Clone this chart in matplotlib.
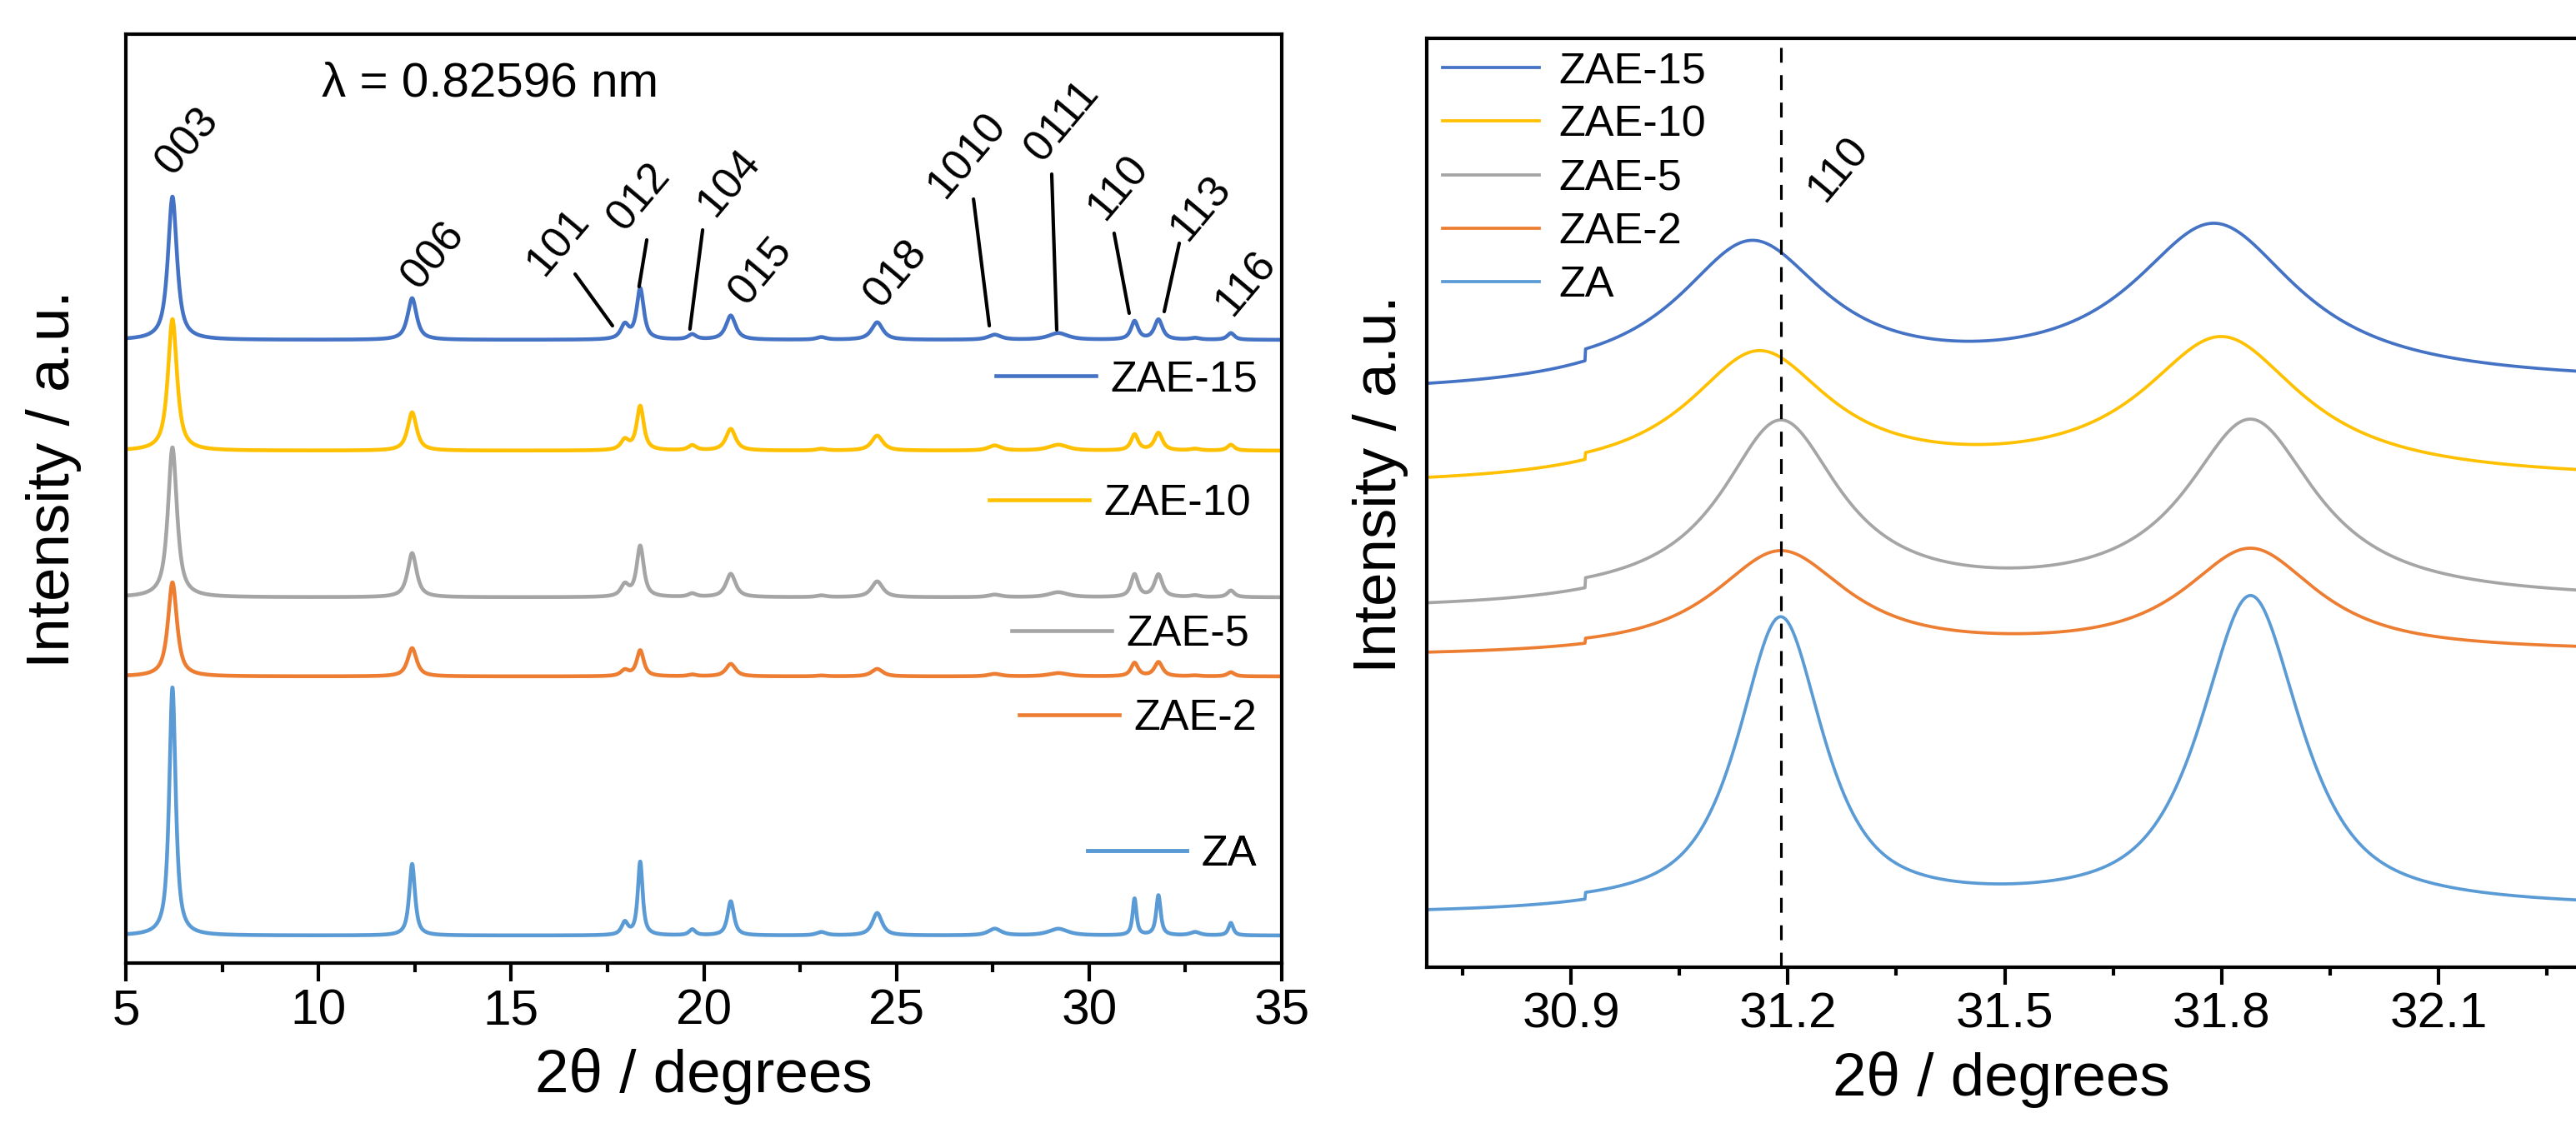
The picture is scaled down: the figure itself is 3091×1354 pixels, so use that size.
import numpy as np
import matplotlib
matplotlib.use("Agg")
import matplotlib.pyplot as plt
from matplotlib.ticker import MultipleLocator

plt.rcParams['font.family'] = ['Liberation Sans', 'DejaVu Sans']
plt.rcParams['lines.scale_dashes'] = False

# ---------------- data ----------------
samples = ["ZAE-15", "ZAE-10", "ZAE-5", "ZAE-2", "ZA"]
colors = ["#4472C4", "#FFC000", "#A5A5A5", "#ED7D31", "#5B9BD5"]

# left panel: reflections (2theta, deg)
refl_pos = [6.21, 12.43, 17.95, 18.35, 19.70, 20.70, 23.05, 24.50, 27.55, 29.20, 31.18, 31.80, 32.75, 33.68]
# peak heights above baseline (a.u.) per sample
refl_h = {
    "ZAE-15": [172, 50, 17, 61, 6, 29, 3, 21, 6, 8, 22, 24, 2, 8],
    "ZAE-10": [158, 46, 12, 53, 6, 26, 2, 18, 6, 7, 19, 21, 2, 7],
    "ZAE-5":  [180, 53, 14, 61, 4, 28, 2, 19, 3, 6, 27, 27, 2, 8],
    "ZAE-2":  [113, 34, 7, 31, 2, 15, 1, 9, 3, 4, 16, 17, 1, 5],
    "ZA":     [298, 86, 15, 88, 7, 41, 4, 27, 8, 8, 44, 48, 4, 15],
}
# peak widths (FWHM, deg)
refl_w_zae = [0.28, 0.28, 0.25, 0.22, 0.25, 0.30, 0.30, 0.35, 0.40, 0.60, 0.22, 0.25, 0.30, 0.22]
refl_w_za = [0.20, 0.18, 0.20, 0.15, 0.20, 0.20, 0.30, 0.30, 0.40, 0.60, 0.12, 0.14, 0.30, 0.15]
left_offset = {"ZAE-15": 748, "ZAE-10": 615, "ZAE-5": 439, "ZAE-2": 344, "ZA": 33}

hkl_labels = ["003", "006", "101", "012", "104", "015", "018", "1010", "0111", "110", "113", "116"]

# right panel: 110 / 113 region
r_bg = [686, 576, 427, 372, 62]
r_step = [14, 8, 12, 6, 8]
r_step_pos = 30.92
r_p1_pos = [31.15, 31.16, 31.19, 31.19, 31.19]
r_p1_h = [164, 149, 212, 119, 346]
r_p1_w = [0.25, 0.24, 0.20, 0.22, 0.14]
r_p2_pos = [31.79, 31.80, 31.84, 31.84, 31.84]
r_p2_h = [187, 168, 214, 122, 373]
r_p2_w = [0.28, 0.27, 0.22, 0.22, 0.165]
r_eta = [1.0, 1.0, 1.0, 0.9, 0.8]
ref_line_110 = 31.19


def pv(x, x0, h, w, eta=1.0):
    lor = 1.0 / (1.0 + (2 * (x - x0) / w) ** 2)
    gau = np.exp(-4 * np.log(2) * ((x - x0) / w) ** 2)
    return h * (eta * lor + (1 - eta) * gau)


# ---------------- figure ----------------
W, H = 3091, 1354
fig = plt.figure(figsize=(W / 300, H / 300), dpi=300)

axL = fig.add_axes([151 / W, (H - 1156) / H, 1387 / W, 1115 / H])
axR = fig.add_axes([1712 / W, (H - 1161) / H, (W - 1712) / W, 1115 / H])

TICK_FS = 14.5
LAB_FS = 17.5
LEG_FS = 12.5
ANN_FS = 12.5
ANN_ROT = 50

# ---- left panel ----
x = np.linspace(5, 35, 4001)
legend_anchor = {"ZAE-15": (0.979, 0.628), "ZAE-10": (0.9733, 0.494), "ZAE-5": (0.9719, 0.354),
                 "ZAE-2": (0.9784, 0.263), "ZA": (0.9784, 0.1166)}
for name, col in zip(samples, colors):
    widths = refl_w_za if name == "ZA" else refl_w_zae
    y = np.full_like(x, float(left_offset[name]))
    for p, h, w in zip(refl_pos, refl_h[name], widths):
        y += pv(x, p, h, w, 0.85)
    ln, = axL.plot(x, y, color=col, lw=1.1, solid_joinstyle='round')
    leg = axL.legend([ln], [name], loc='center right', bbox_to_anchor=legend_anchor[name],
                     frameon=False, fontsize=LEG_FS, handlelength=2.3, handletextpad=0.33,
                     borderpad=0, borderaxespad=0)
    axL.add_artist(leg)

axL.set_xlim(5, 35)
axL.set_ylim(0, 1115)
axL.set_yticks([])
axL.xaxis.set_major_locator(MultipleLocator(5))
axL.xaxis.set_minor_locator(MultipleLocator(2.5))
axL.tick_params(axis='x', which='major', direction='out', length=5.3, width=1.0,
                labelsize=TICK_FS, pad=2)
axL.tick_params(axis='x', which='minor', direction='out', length=2.7, width=1.0)
for s in axL.spines.values():
    s.set_linewidth(1.0)
axL.set_xlabel("2θ / degrees", fontsize=LAB_FS, labelpad=4)
axL.set_ylabel("Intensity / a.u.", fontsize=LAB_FS)
axL.yaxis.set_label_coords(-0.0379, 0.521)

axL.text(10.08, 1041, "λ = 0.82596 nm", fontsize=14, ha='left', va='baseline')

# peak labels (text centre, leader start, leader end) in data coords
ann = [
    ("003", (6.60, 986), None),
    ("006", (12.98, 849), None),
    ("101", (16.23, 865), ((16.66, 827), (17.63, 765))),
    ("012", (18.32, 919), ((18.52, 868), (18.32, 812))),
    ("104", (20.66, 936), ((19.97, 880), (19.64, 761))),
    ("015", (21.48, 830), None),
    ("018", (24.99, 827), None),
    ("1010", (26.83, 969), ((27.00, 917), (27.41, 765))),
    ("0111", (29.31, 1010), ((29.03, 947), (29.16, 760))),
    ("110", (30.76, 931), ((30.65, 876), (31.04, 780))),
    ("113", (32.90, 906), ((32.34, 864), (31.95, 782))),
    ("116", (34.07, 816), None),
]
for lab, (tx, ty), lead in ann:
    axL.text(tx, ty, lab, fontsize=ANN_FS, rotation=ANN_ROT, ha='center', va='center',
             rotation_mode='anchor')
    if lead is not None:
        axL.annotate("", xy=lead[1], xytext=lead[0],
                     arrowprops=dict(arrowstyle='-', color='black', lw=1.0,
                                     shrinkA=0, shrinkB=0))

# ---- right panel ----
xr = np.linspace(30.70, 32.29, 2001)
handles = []
for i, (name, col) in enumerate(zip(samples, colors)):
    y = np.full_like(xr, float(r_bg[i])) + r_step[i] * (xr >= r_step_pos)
    y = y + pv(xr, r_p1_pos[i], r_p1_h[i], r_p1_w[i], r_eta[i])
    y = y + pv(xr, r_p2_pos[i], r_p2_h[i], r_p2_w[i], r_eta[i])
    ln, = axR.plot(xr, y, color=col, lw=0.9, label=name)
    handles.append(ln)

axR.axvline(ref_line_110, color='black', lw=0.75, dashes=(4.3, 3.6), ymax=0.99)
axR.text(31.27, 958, "110", fontsize=ANN_FS, rotation=ANN_ROT, ha='center', va='center',
         rotation_mode='anchor')

axR.set_xlim(30.7006, 32.29)
axR.set_ylim(0, 1115)
axR.set_yticks([])
axR.set_xticks([30.9, 31.2, 31.5, 31.8, 32.1])
axR.set_xticklabels(["30.9", "31.2", "31.5", "31.8", "32.1"])
axR.xaxis.set_minor_locator(MultipleLocator(0.15))
axR.tick_params(axis='x', which='major', direction='out', length=5.0, width=1.0,
                labelsize=TICK_FS, pad=2)
axR.tick_params(axis='x', which='minor', direction='out', length=2.4, width=1.0)
for s in axR.spines.values():
    s.set_linewidth(1.0)
axR.spines['right'].set_visible(False)
axR.set_xlabel("2θ / degrees", fontsize=LAB_FS, labelpad=4)
axR.set_ylabel("Intensity / a.u.", fontsize=LAB_FS)
axR.yaxis.set_label_coords(-0.016, 0.52)
axR.legend(handles=handles, loc='upper left', bbox_to_anchor=(0.0138, 0.986),
           frameon=False, fontsize=LEG_FS, handlelength=2.23, handletextpad=0.45,
           labelspacing=0.29, borderpad=0, borderaxespad=0)

fig.savefig("out.png", dpi=300)
